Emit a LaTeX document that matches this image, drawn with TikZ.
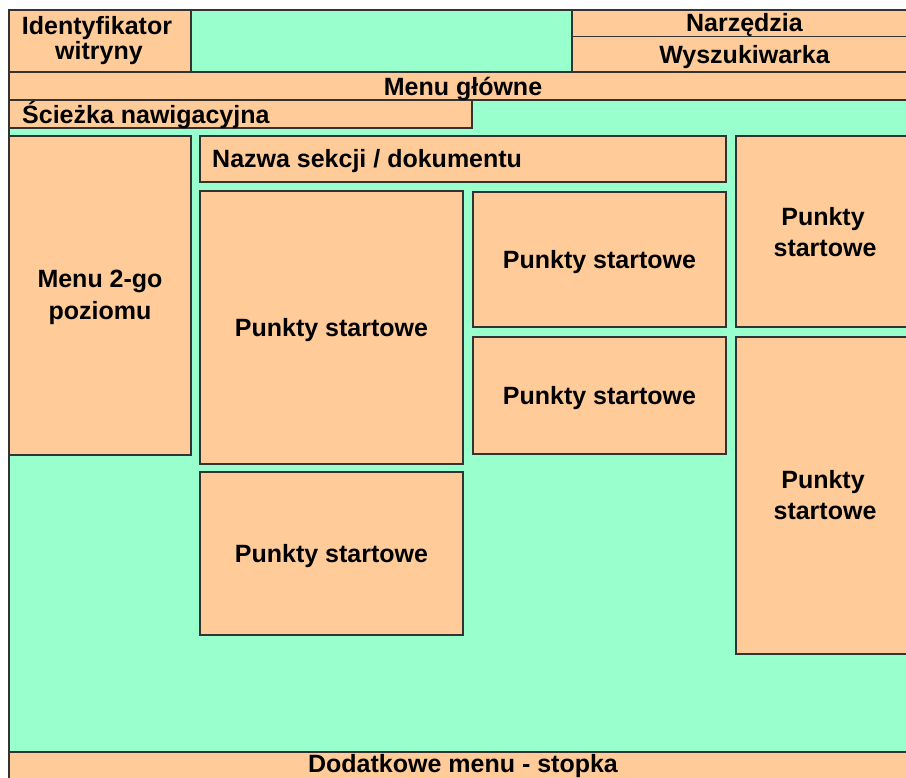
\documentclass[tikz,border=0pt]{standalone}
\usepackage{fontspec}
\setmainfont{Liberation Sans}
\definecolor{peach}{HTML}{FFCC99}
\definecolor{mint}{HTML}{99FFCC}
\definecolor{edge}{HTML}{333333}
\begin{document}
\begin{tikzpicture}[x=1pt,y=-1pt,
  pbox/.style={draw=edge, line width=1.1pt, fill=peach, anchor=north west, inner sep=0pt, outer sep=0pt},
  lab/.style={anchor=base, inner sep=0pt, font=\fontsize{25}{30}\selectfont\bfseries},
  labw/.style={lab, anchor=base west}]
\useasboundingbox (0,0) rectangle (906,778);
\fill[white] (0,0) rectangle (906,778);
\clip (0,0) rectangle (906,778);
% frame
\node[pbox, fill=mint, minimum width=909, minimum height=772] (frame) at (9,10) {};
% header
\node[pbox, minimum width=182, minimum height=62] (idbox) at (9,10) {};
\node[pbox, minimum width=346, minimum height=26.5] (narz) at (572,10) {};
\node[pbox, minimum width=346, minimum height=35.5] (wysz) at (572,36.5) {};
\node[pbox, minimum width=909, minimum height=28] (menu) at (9,72) {};
\node[pbox, minimum width=463, minimum height=28] (path) at (9,100) {};
% content
\node[pbox, minimum width=182, minimum height=319] (menu2) at (9,136) {};
\node[pbox, minimum width=526, minimum height=46] (title) at (200,136) {};
\node[pbox, minimum width=263, minimum height=273] (ps1) at (200,191) {};
\node[pbox, minimum width=263, minimum height=163] (ps2) at (200,472) {};
\node[pbox, minimum width=253, minimum height=135] (ps3) at (473,192) {};
\node[pbox, minimum width=253, minimum height=117] (ps4) at (473,337) {};
\node[pbox, minimum width=182, minimum height=191] (ps5) at (736,136) {};
\node[pbox, minimum width=182, minimum height=317] (ps6) at (736,337) {};
% footer
\node[pbox, minimum width=909, minimum height=30] (foot) at (9,752) {};
% labels
\node[lab] (tid1) at (97,35) {Identyfikator};
\node[lab] (tid2) at (99,60) {witryny};
\node[lab] (tnarz) at (744.5,32) {Narzędzia};
\node[lab] (twysz) at (744.5,64) {Wyszukiwarka};
\node[lab] (tmenu) at (463,95.5) {Menu główne};
\node[labw] (tpath) at (22,124) {Ścieżka nawigacyjna};
\node[labw] (ttitle) at (212,168) {Nazwa sekcji / dokumentu};
\node[lab] (tm1) at (100,288) {Menu 2-go};
\node[lab] (tm2) at (100,320) {poziomu};
\node[lab] (tps1) at (331.5,336.5) {Punkty startowe};
\node[lab] (tps2) at (331.5,562.5) {Punkty startowe};
\node[lab] (tps3) at (599.5,268.5) {Punkty startowe};
\node[lab] (tps4) at (599.5,404.5) {Punkty startowe};
\node[lab] (tps5a) at (823,226) {Punkty};
\node[lab] (tps5b) at (825,257) {startowe};
\node[lab] (tps6a) at (823,488) {Punkty};
\node[lab] (tps6b) at (825,519) {startowe};
\node[lab] (tfoot) at (463,772) {Dodatkowe menu - stopka};
\end{tikzpicture}
\end{document}
